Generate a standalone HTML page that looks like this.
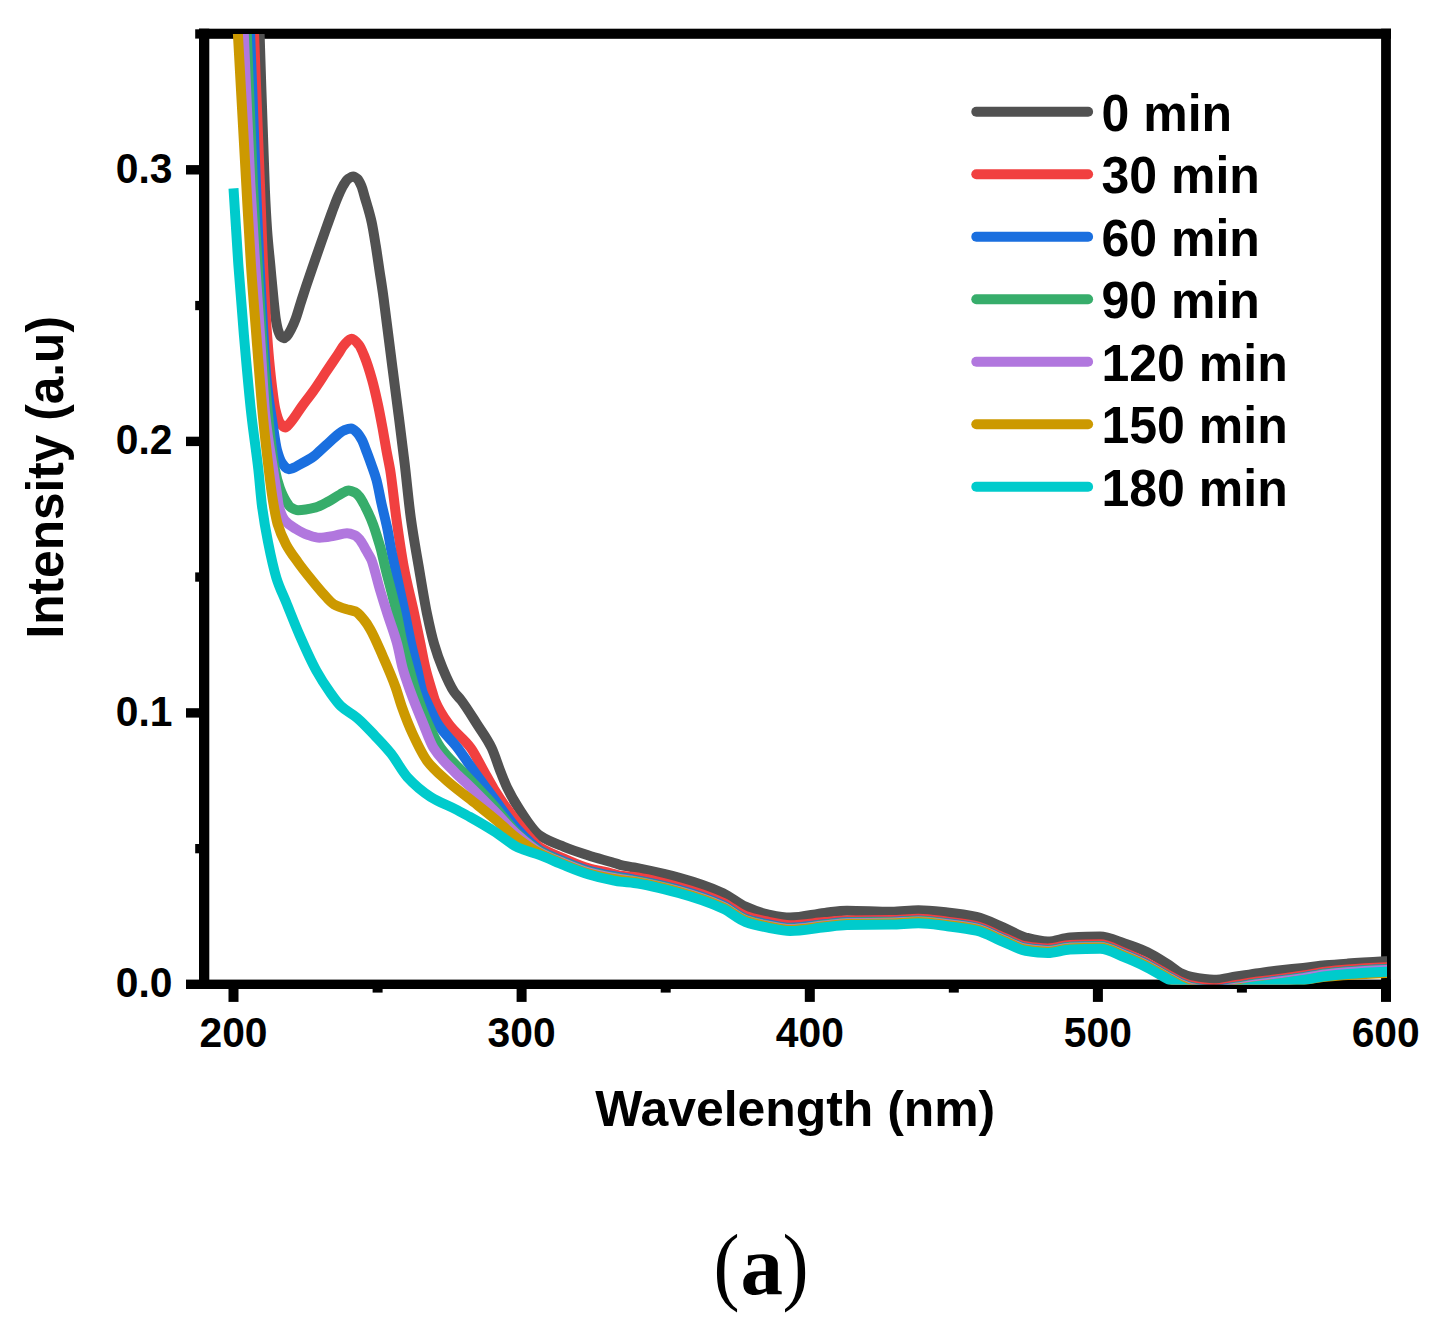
<!DOCTYPE html>
<html lang="en">
<head>
<meta charset="utf-8">
<title>UV-vis absorption spectra (a)</title>
<style>
html,body{margin:0;padding:0;background:#fff;}
body{width:1434px;height:1335px;overflow:hidden;}
svg{display:block;}
</style>
</head>
<body>
<svg width="1434" height="1335" viewBox="0 0 1434 1335">
<defs><clipPath id="pc"><rect x="204.0" y="34.0" width="1183.0" height="950.5"/></clipPath></defs>
<rect width="1434" height="1335" fill="#fff"/>
<g fill="#000">
<rect x="199" y="28.7" width="1192" height="10.1"/>
<rect x="199" y="979.6" width="1192" height="9.4"/>
<rect x="199" y="28.7" width="10.3" height="960.3"/>
<rect x="1381.1" y="28.7" width="9.8" height="960.3"/>
<rect x="186" y="979.6" width="14" height="9.4"/>
<rect x="195.2" y="844.0" width="5" height="9.3"/>
<rect x="186" y="708.2" width="14" height="9.4"/>
<rect x="195.2" y="572.4" width="5" height="9.3"/>
<rect x="186" y="436.7" width="14" height="9.4"/>
<rect x="195.2" y="300.9" width="5" height="9.3"/>
<rect x="186" y="165.1" width="14" height="9.4"/>
<rect x="195.2" y="29.3" width="5" height="9.3"/>
<rect x="228.5" y="988" width="10" height="13.9"/>
<rect x="372.6" y="988" width="10" height="4.6"/>
<rect x="516.6" y="988" width="10" height="13.9"/>
<rect x="660.7" y="988" width="10" height="4.6"/>
<rect x="804.8" y="988" width="10" height="13.9"/>
<rect x="948.8" y="988" width="10" height="4.6"/>
<rect x="1092.9" y="988" width="10" height="13.9"/>
<rect x="1236.9" y="988" width="10" height="4.6"/>
<rect x="1381.0" y="988" width="10" height="13.9"/>
</g>
<g clip-path="url(#pc)" fill="none" stroke-width="10" stroke-linejoin="round" stroke-linecap="butt">
<path stroke="#515151" d="M257.4 -30.0C258.1 -8.7 258.9 12.6 259.6 34.0C261.4 85.7 263.1 151.5 264.9 190.0C265.6 206.0 266.4 219.8 267.1 230.0C268.2 245.3 269.3 254.2 270.4 266.0C271.5 278.2 272.7 291.3 273.8 301.9C274.5 308.5 275.2 315.7 275.9 319.9C276.7 324.7 277.5 328.7 278.3 331.0C279.2 333.6 280.1 335.8 281.0 336.6C281.9 337.4 282.9 338.2 283.8 338.2C284.9 338.2 285.9 337.0 287.0 336.0C288.3 334.7 289.7 332.0 291.0 329.5C292.5 326.6 294.1 323.1 295.6 319.0C297.2 314.7 298.9 308.6 300.5 303.5C302.3 297.8 304.2 292.0 306.0 286.5C308.0 280.5 310.0 274.6 312.0 268.8C314.2 262.4 316.4 256.1 318.6 249.8C321.1 242.6 323.7 235.3 326.2 228.2C328.1 222.8 330.1 217.2 332.0 212.0C334.0 206.6 336.0 201.1 338.0 196.5C339.7 192.7 341.3 188.8 343.0 186.0C344.7 183.2 346.3 180.2 348.0 179.0C349.8 177.7 351.5 176.4 353.3 176.4C354.7 176.4 356.1 177.7 357.5 179.0C358.8 180.2 360.1 183.0 361.4 186.0C362.6 188.8 363.8 193.9 365.0 198.0C367.2 205.6 369.4 212.0 371.6 221.9C373.0 228.2 374.4 237.3 375.8 245.9C377.0 253.3 378.2 261.9 379.4 269.9C380.6 277.9 381.8 285.2 383.0 293.8C383.7 298.8 384.4 304.6 385.1 310.0C387.6 329.2 390.0 348.8 392.5 368.0C394.6 384.1 396.6 399.7 398.7 415.9C400.7 431.6 402.7 447.1 404.7 463.9C406.7 481.0 408.8 503.1 410.8 518.0C413.4 537.0 416.0 550.5 418.6 565.9C421.4 582.5 424.2 600.2 427.0 613.8C429.4 625.3 431.7 635.9 434.1 644.0C436.9 653.6 439.7 661.3 442.5 668.0C446.4 677.4 450.3 686.3 454.2 692.0C456.5 695.3 458.7 697.1 461.0 700.0C466.3 706.9 471.6 715.7 476.9 724.0C481.8 731.7 486.7 737.8 491.6 747.9C494.6 754.1 497.6 764.3 500.6 771.9C502.7 777.3 504.9 783.0 507.0 787.4C510.7 795.0 514.3 801.4 518.0 807.0C525.3 818.2 532.7 830.7 540.0 835.7C548.0 841.2 556.0 843.6 564.0 846.8C572.0 850.0 580.0 852.6 588.0 855.2C596.0 857.8 604.0 859.9 612.0 862.3C614.7 863.1 617.3 864.1 620.0 864.8C624.6 865.9 629.3 866.5 633.9 867.5C648.8 870.6 663.6 873.5 678.5 877.6C693.4 881.7 708.3 886.4 723.2 893.2C730.6 896.6 738.1 903.3 745.5 906.6C752.9 909.9 760.4 912.9 767.8 914.4C775.2 915.9 782.7 917.6 790.1 917.6C801.6 917.6 813.1 914.2 824.6 912.9C832.1 912.1 839.5 910.7 847.0 910.7C861.9 910.7 876.7 911.8 891.6 911.8C900.5 911.8 909.5 910.3 918.4 910.3C928.1 910.3 937.7 911.5 947.4 912.5C957.1 913.5 966.7 914.8 976.4 917.0C985.3 919.0 994.3 923.7 1003.2 927.4C1010.6 930.5 1018.1 935.6 1025.5 937.5C1032.9 939.4 1040.4 941.5 1047.8 941.5C1055.2 941.5 1062.7 937.9 1070.1 937.5C1080.1 937.0 1090.0 936.6 1100.0 936.6C1108.2 936.6 1116.4 940.8 1124.6 943.5C1132.1 945.9 1139.5 948.5 1147.0 952.0C1154.4 955.4 1161.9 960.5 1169.3 965.3C1173.0 967.7 1176.7 971.4 1180.4 973.1C1184.1 974.8 1187.9 976.3 1191.6 977.0C1199.0 978.4 1206.5 979.8 1213.9 979.8C1221.3 979.8 1228.8 977.6 1236.2 976.5C1243.6 975.4 1251.1 974.1 1258.5 973.1C1265.9 972.1 1273.4 971.0 1280.8 970.2C1288.3 969.4 1295.7 968.8 1303.2 968.0C1310.6 967.2 1318.1 966.0 1325.5 965.3C1332.9 964.6 1340.4 964.1 1347.8 963.6C1360.4 962.7 1373.1 962.0 1385.7 961.3C1389.1 961.1 1392.6 961.0 1396.0 960.8"/>
<path stroke="#F14040" d="M251.5 -30.0C252.3 -8.6 253.2 12.8 254.0 34.0C256.0 84.8 258.0 133.4 260.0 185.0C261.0 210.8 262.0 242.9 263.0 264.0C264.4 292.9 265.7 316.6 267.1 335.0C268.4 352.5 269.7 366.7 271.0 378.0C272.5 391.0 274.0 403.8 275.5 410.0C277.0 416.2 278.5 421.0 280.0 423.0C281.7 425.3 283.5 427.5 285.2 427.5C286.8 427.5 288.4 424.8 290.0 423.1C294.0 418.8 298.0 411.8 302.0 406.3C306.0 400.8 310.0 395.8 314.0 390.1C318.0 384.4 322.0 378.1 326.0 372.1C330.0 366.1 334.0 360.2 338.0 354.2C340.0 351.2 342.0 347.4 344.0 345.2C346.6 342.4 349.1 338.7 351.7 338.7C354.1 338.7 356.6 342.0 359.0 345.0C360.8 347.2 362.5 351.7 364.3 356.0C366.9 362.4 369.5 370.6 372.1 379.9C374.0 386.7 375.9 395.1 377.8 403.9C379.4 411.2 380.9 419.4 382.5 427.9C383.9 435.5 385.3 444.3 386.7 451.9C387.9 458.2 389.0 462.9 390.2 470.0C392.2 482.5 394.3 503.4 396.3 518.0C398.7 535.5 401.2 552.7 403.6 565.9C407.1 585.0 410.7 597.3 414.2 613.8C416.3 623.6 418.4 633.8 420.5 644.0C422.1 651.9 423.8 661.3 425.4 668.0C427.7 677.4 430.0 684.4 432.3 692.0C433.1 694.8 434.0 698.0 434.8 700.0C439.4 711.2 444.1 717.7 448.7 724.0C456.0 734.0 463.4 737.8 470.7 747.9C475.2 754.1 479.8 763.9 484.3 771.9C487.5 777.6 490.8 783.8 494.0 789.0C502.0 801.8 510.0 813.3 518.0 823.2C525.3 832.3 532.7 842.7 540.0 847.5C548.0 852.7 556.0 855.2 564.0 858.6C572.0 862.0 580.0 865.8 588.0 868.1C596.0 870.4 604.0 871.5 612.0 873.5C614.7 874.2 617.3 875.2 620.0 875.6C624.6 876.3 629.3 876.4 633.9 877.0C648.8 878.9 663.6 882.9 678.5 887.0C693.4 891.1 708.3 895.9 723.2 902.7C730.6 906.1 738.1 913.4 745.5 916.0C752.9 918.6 760.4 920.1 767.8 921.6C775.2 923.1 782.7 925.2 790.1 925.2C801.6 925.2 813.1 923.1 824.6 922.1C832.1 921.5 839.5 920.4 847.0 920.4C861.9 920.2 876.7 920.3 891.6 920.1C900.5 920.0 909.5 918.8 918.4 918.8C928.1 918.8 937.7 920.5 947.4 921.7C957.1 922.9 966.7 923.9 976.4 926.1C985.3 928.1 994.3 933.7 1003.2 937.3C1010.6 940.3 1018.1 945.0 1025.5 946.2C1032.9 947.4 1040.4 948.4 1047.8 948.4C1055.2 948.4 1062.7 945.4 1070.1 945.1C1080.1 944.6 1090.0 944.3 1100.0 944.3C1108.2 944.3 1116.4 949.7 1124.6 952.9C1132.1 955.8 1139.5 959.2 1147.0 962.9C1154.4 966.6 1161.9 971.4 1169.3 975.5C1173.0 977.5 1176.7 979.9 1180.4 981.5C1184.1 983.1 1187.9 984.8 1191.6 985.5C1199.0 987.0 1206.5 988.3 1213.9 988.3C1221.3 988.3 1228.8 986.1 1236.2 985.0C1243.6 983.9 1251.1 982.5 1258.5 981.5C1265.9 980.5 1273.4 979.7 1280.8 978.7C1288.3 977.7 1295.7 976.6 1303.2 975.5C1310.6 974.4 1318.1 972.7 1325.5 971.8C1332.9 970.9 1340.4 970.2 1347.8 969.6C1360.4 968.6 1373.1 967.9 1385.7 967.3C1389.1 967.1 1392.6 967.0 1396.0 966.9"/>
<path stroke="#1A6FDF" d="M247.6 -30.0C248.4 -8.7 249.3 12.7 250.1 34.0C252.1 84.3 254.0 137.3 256.0 185.0C257.1 212.5 258.3 241.4 259.4 264.0C260.8 291.2 262.1 313.3 263.5 335.0C264.5 350.4 265.4 368.1 266.4 378.0C268.6 400.5 270.8 411.6 273.0 426.0C274.3 434.7 275.7 445.1 277.0 450.0C278.7 456.1 280.3 460.7 282.0 463.0C284.3 466.1 286.5 469.2 288.8 469.2C293.2 469.2 297.6 465.5 302.0 463.2C306.0 461.1 310.0 459.0 314.0 456.1C316.0 454.6 318.0 452.5 320.0 450.7C322.0 448.9 324.0 447.1 326.0 445.3C330.0 441.7 334.0 437.6 338.0 434.5C340.0 432.9 342.0 431.1 344.0 430.3C346.4 429.4 348.7 428.5 351.1 428.5C353.1 428.5 355.0 430.6 357.0 432.5C358.6 434.0 360.3 436.8 361.9 439.9C363.5 442.9 365.1 447.7 366.7 451.9C368.3 456.1 369.9 460.4 371.5 465.0C373.2 469.8 374.8 473.9 376.5 480.0C378.2 486.2 379.9 496.4 381.6 504.0C383.5 512.4 385.3 518.9 387.2 527.9C388.7 535.0 390.1 544.6 391.6 551.9C392.6 556.9 393.6 561.3 394.6 565.9C398.1 582.0 401.5 597.3 405.0 613.8C407.1 623.6 409.1 634.8 411.2 644.0C413.1 652.6 415.1 659.8 417.0 668.0C418.8 675.8 420.7 686.6 422.5 692.0C423.7 695.4 424.8 697.5 426.0 700.0C429.9 708.6 433.9 717.9 437.8 724.0C444.4 734.2 451.0 739.3 457.6 747.9C463.2 755.3 468.9 764.0 474.5 771.9C481.0 781.0 487.5 789.9 494.0 798.6C502.0 809.3 510.0 821.3 518.0 830.0C525.3 838.0 532.7 846.0 540.0 850.5C548.0 855.4 556.0 858.2 564.0 861.5C572.0 864.8 580.0 868.2 588.0 870.5C596.0 872.8 604.0 874.4 612.0 875.9C619.3 877.3 626.6 878.2 633.9 879.6C648.8 882.4 663.6 885.5 678.5 889.6C693.4 893.7 708.3 898.5 723.2 905.3C730.6 908.7 738.1 916.0 745.5 918.6C752.9 921.2 760.4 922.8 767.8 924.2C775.2 925.6 782.7 927.7 790.1 927.7C801.6 927.7 813.1 925.3 824.6 924.2C832.1 923.5 839.5 922.3 847.0 922.1C861.9 921.8 876.7 921.9 891.6 921.7C900.5 921.6 909.5 920.4 918.4 920.4C928.1 920.4 937.7 922.1 947.4 923.3C957.1 924.5 966.7 925.5 976.4 927.7C985.3 929.7 994.3 935.3 1003.2 938.9C1010.6 941.9 1018.1 946.6 1025.5 947.8C1032.9 949.0 1040.4 950.0 1047.8 950.0C1055.2 950.0 1062.7 947.0 1070.1 946.7C1080.1 946.2 1090.0 945.9 1100.0 945.9C1108.2 945.9 1116.4 951.3 1124.6 954.5C1132.1 957.4 1139.5 960.8 1147.0 964.5C1154.4 968.2 1161.9 973.0 1169.3 977.1C1173.0 979.1 1176.7 981.5 1180.4 983.1C1184.1 984.7 1187.9 986.4 1191.6 987.1C1199.0 988.6 1206.5 989.9 1213.9 989.9C1221.3 989.9 1228.8 987.7 1236.2 986.6C1243.6 985.5 1251.1 984.1 1258.5 983.1C1265.9 982.1 1273.4 981.3 1280.8 980.3C1288.3 979.3 1295.7 978.2 1303.2 977.1C1310.6 976.0 1318.1 974.3 1325.5 973.4C1332.9 972.5 1340.4 971.8 1347.8 971.2C1360.4 970.2 1373.1 969.5 1385.7 968.9C1389.1 968.7 1392.6 968.6 1396.0 968.5"/>
<path stroke="#37AD6B" d="M244.3 -30.0C245.1 -8.4 246.0 13.1 246.8 34.0C248.9 85.8 250.9 143.7 253.0 185.0C254.5 215.6 256.1 237.9 257.6 264.0C259.0 287.9 260.4 314.5 261.8 335.0C263.9 365.3 265.9 393.6 268.0 414.0C270.3 437.0 272.7 458.3 275.0 470.0C276.6 478.0 278.2 483.6 279.8 488.0C281.9 493.7 283.9 498.0 286.0 501.2C287.7 503.8 289.3 506.5 291.0 507.5C293.3 508.9 295.7 510.2 298.0 510.2C304.0 510.2 309.9 508.8 315.9 507.3C319.9 506.3 323.9 503.9 327.9 501.8C331.9 499.7 335.9 496.7 339.9 494.6C342.9 493.0 345.8 490.4 348.8 490.4C350.9 490.4 352.9 491.4 355.0 492.5C356.5 493.3 358.1 494.9 359.6 496.8C361.0 498.5 362.4 501.4 363.8 504.0C365.3 506.8 366.8 509.7 368.3 513.0C370.0 516.6 371.6 520.4 373.3 524.9C374.6 528.4 375.9 532.7 377.2 536.9C378.4 540.7 379.6 544.4 380.8 548.9C382.1 553.9 383.5 560.4 384.8 565.9C388.8 582.5 392.8 595.8 396.8 613.8C398.8 622.8 400.8 635.4 402.8 644.0C404.9 653.2 407.1 660.2 409.2 668.0C411.5 676.2 413.7 685.1 416.0 692.0C420.1 704.4 424.1 715.0 428.2 724.0C432.4 733.2 436.5 742.0 440.7 747.9C448.0 758.3 455.4 763.9 462.7 771.9C473.1 783.2 483.6 793.9 494.0 805.7C502.0 814.8 510.0 826.7 518.0 834.2C525.3 841.1 532.7 847.2 540.0 851.5C548.0 856.2 556.0 859.2 564.0 862.5C572.0 865.8 580.0 869.2 588.0 871.5C596.0 873.8 604.0 875.4 612.0 876.9C619.3 878.3 626.6 879.1 633.9 880.5C648.8 883.3 663.6 886.4 678.5 890.5C693.4 894.6 708.3 899.4 723.2 906.2C730.6 909.6 738.1 916.9 745.5 919.5C752.9 922.1 760.4 923.7 767.8 925.1C775.2 926.5 782.7 928.5 790.1 928.5C801.6 928.5 813.1 926.0 824.6 924.8C832.1 924.0 839.5 922.8 847.0 922.6C861.9 922.3 876.7 922.4 891.6 922.1C900.5 921.9 909.5 920.8 918.4 920.8C928.1 920.8 937.7 922.5 947.4 923.7C957.1 924.9 966.7 925.9 976.4 928.1C985.3 930.1 994.3 935.7 1003.2 939.3C1010.6 942.3 1018.1 947.0 1025.5 948.2C1032.9 949.4 1040.4 950.4 1047.8 950.4C1055.2 950.4 1062.7 947.4 1070.1 947.1C1080.1 946.6 1090.0 946.3 1100.0 946.3C1108.2 946.3 1116.4 951.7 1124.6 954.9C1132.1 957.8 1139.5 961.2 1147.0 964.9C1154.4 968.6 1161.9 973.4 1169.3 977.5C1173.0 979.5 1176.7 981.9 1180.4 983.5C1184.1 985.1 1187.9 986.8 1191.6 987.5C1199.0 989.0 1206.5 990.3 1213.9 990.3C1221.3 990.3 1228.8 988.1 1236.2 987.0C1243.6 985.9 1251.1 984.5 1258.5 983.5C1265.9 982.5 1273.4 981.7 1280.8 980.7C1288.3 979.7 1295.7 978.6 1303.2 977.5C1310.6 976.4 1318.1 974.7 1325.5 973.8C1332.9 972.9 1340.4 972.2 1347.8 971.6C1360.4 970.6 1373.1 969.9 1385.7 969.3C1389.1 969.1 1392.6 969.0 1396.0 968.9"/>
<path stroke="#B177DE" d="M241.0 -30.0C241.9 -8.7 242.9 12.7 243.8 34.0C246.0 84.3 248.2 143.2 250.4 185.0C252.0 215.4 253.6 239.1 255.2 264.0C256.8 288.9 258.4 311.0 260.0 335.0C261.7 361.0 263.5 396.9 265.2 414.0C267.9 440.2 270.5 452.4 273.2 470.0C274.5 478.4 275.7 485.8 277.0 494.0C277.6 497.9 278.2 503.7 278.8 506.0C280.8 513.7 282.8 517.8 284.8 520.3C288.4 524.7 292.0 526.5 295.6 528.7C299.6 531.1 303.5 533.3 307.5 534.7C311.5 536.1 315.5 537.8 319.5 537.8C324.3 537.8 329.1 536.7 333.9 535.9C338.3 535.2 342.6 533.2 347.0 533.2C349.7 533.2 352.3 534.2 355.0 535.3C356.7 536.0 358.3 537.9 360.0 539.9C361.5 541.6 362.9 544.6 364.4 547.1C365.6 549.2 366.8 551.5 368.0 553.7C369.2 555.8 370.3 557.3 371.5 560.0C372.1 561.5 372.8 563.8 373.4 565.9C375.6 573.2 377.8 582.4 380.0 589.9C382.5 598.3 384.9 606.0 387.4 613.8C390.7 624.1 393.9 631.9 397.2 644.0C399.0 650.7 400.8 661.5 402.6 668.0C405.3 677.7 407.9 684.6 410.6 692.0C414.8 703.7 419.1 713.7 423.3 724.0C426.7 732.2 430.1 742.5 433.5 747.9C440.5 759.1 447.6 764.7 454.6 771.9C459.7 777.2 464.9 781.5 470.0 786.5C478.0 794.3 486.0 802.5 494.0 810.6C502.0 818.7 510.0 828.2 518.0 835.3C525.3 841.8 532.7 848.3 540.0 852.5C548.0 857.1 556.0 860.0 564.0 863.3C572.0 866.6 580.0 870.0 588.0 872.3C596.0 874.5 604.0 876.2 612.0 877.7C619.3 879.0 626.6 879.8 633.9 881.1C648.8 883.8 663.6 887.0 678.5 891.1C693.4 895.2 708.3 900.0 723.2 906.8C730.6 910.2 738.1 917.5 745.5 920.1C752.9 922.7 760.4 924.3 767.8 925.7C775.2 927.1 782.7 929.1 790.1 929.1C801.6 929.1 813.1 926.6 824.6 925.4C832.1 924.6 839.5 923.4 847.0 923.2C861.9 922.9 876.7 923.0 891.6 922.7C900.5 922.5 909.5 921.4 918.4 921.4C928.1 921.4 937.7 923.1 947.4 924.3C957.1 925.5 966.7 926.5 976.4 928.7C985.3 930.7 994.3 936.3 1003.2 939.9C1010.6 942.9 1018.1 947.6 1025.5 948.8C1032.9 950.0 1040.4 951.0 1047.8 951.0C1055.2 951.0 1062.7 948.0 1070.1 947.7C1080.1 947.2 1090.0 946.9 1100.0 946.9C1108.2 946.9 1116.4 952.3 1124.6 955.5C1132.1 958.4 1139.5 961.8 1147.0 965.5C1154.4 969.2 1161.9 974.0 1169.3 978.1C1173.0 980.1 1176.7 982.5 1180.4 984.1C1184.1 985.7 1187.9 987.4 1191.6 988.1C1199.0 989.6 1206.5 990.9 1213.9 990.9C1221.3 990.9 1228.8 988.7 1236.2 987.6C1243.6 986.5 1251.1 985.1 1258.5 984.1C1265.9 983.1 1273.4 982.3 1280.8 981.3C1288.3 980.3 1295.7 979.2 1303.2 978.1C1310.6 977.0 1318.1 975.3 1325.5 974.4C1332.9 973.5 1340.4 972.8 1347.8 972.2C1360.4 971.2 1373.1 970.5 1385.7 969.9C1389.1 969.7 1392.6 969.6 1396.0 969.5"/>
<path stroke="#CC9900" d="M234.3 -30.0C235.5 -8.7 236.7 12.6 237.9 34.0C240.7 84.0 243.5 135.9 246.3 185.0C247.8 211.9 249.4 241.1 250.9 264.0C252.7 290.9 254.5 312.1 256.3 335.0C258.4 362.2 260.6 391.6 262.7 414.0C264.7 435.4 266.8 453.3 268.8 470.0C270.1 480.9 271.5 492.0 272.8 500.0C274.4 509.7 276.0 518.6 277.6 524.0C280.4 533.4 283.2 539.0 286.0 544.3C290.0 551.8 294.0 556.7 298.0 562.3C302.0 567.9 306.0 572.9 310.0 577.9C314.0 582.9 318.0 587.9 322.0 592.3C326.0 596.6 329.9 602.1 333.9 604.3C337.9 606.6 341.9 607.8 345.9 609.0C349.1 610.0 352.3 610.2 355.5 611.5C358.3 612.7 361.1 616.4 363.9 619.8C366.0 622.3 368.1 625.6 370.2 629.2C374.4 636.4 378.6 646.7 382.8 656.2C387.0 665.7 391.2 675.1 395.4 686.7C397.6 692.7 399.7 700.9 401.9 707.0C405.5 717.1 409.1 726.2 412.7 734.0C417.5 744.3 422.3 754.5 427.1 760.9C433.7 769.6 440.3 774.8 446.9 780.7C454.6 787.5 462.3 793.0 470.0 799.1C478.0 805.5 486.0 811.7 494.0 818.3C502.0 824.9 510.0 833.0 518.0 839.0C525.3 844.5 532.7 849.6 540.0 853.5C548.0 857.8 556.0 860.9 564.0 864.2C572.0 867.5 580.0 870.9 588.0 873.2C596.0 875.5 604.0 877.3 612.0 878.7C619.3 880.0 626.6 880.6 633.9 881.8C648.8 884.3 663.6 887.7 678.5 891.8C693.4 895.9 708.3 900.7 723.2 907.5C730.6 910.9 738.1 918.2 745.5 920.8C752.9 923.4 760.4 925.0 767.8 926.4C775.2 927.8 782.7 929.8 790.1 929.8C801.6 929.8 813.1 927.3 824.6 926.1C832.1 925.3 839.5 924.1 847.0 923.9C861.9 923.6 876.7 923.7 891.6 923.4C900.5 923.2 909.5 922.1 918.4 922.1C928.1 922.1 937.7 923.8 947.4 925.0C957.1 926.2 966.7 927.2 976.4 929.4C985.3 931.4 994.3 937.0 1003.2 940.6C1010.6 943.6 1018.1 948.3 1025.5 949.5C1032.9 950.7 1040.4 951.7 1047.8 951.7C1055.2 951.7 1062.7 948.7 1070.1 948.4C1080.1 947.9 1090.0 947.6 1100.0 947.6C1108.2 947.6 1116.4 953.0 1124.6 956.2C1132.1 959.1 1139.5 962.5 1147.0 966.2C1154.4 969.9 1161.9 974.7 1169.3 978.8C1173.0 980.8 1176.7 983.2 1180.4 984.8C1184.1 986.4 1187.9 988.0 1191.6 988.8C1199.0 990.3 1206.5 991.8 1213.9 991.8C1221.3 991.8 1228.8 989.8 1236.2 988.8C1243.6 987.7 1251.1 986.5 1258.5 985.6C1265.9 984.6 1273.4 984.0 1280.8 983.1C1288.3 982.2 1295.7 981.2 1303.2 980.2C1310.6 979.1 1318.1 977.6 1325.5 976.8C1332.9 976.0 1340.4 975.3 1347.8 974.9C1360.4 974.1 1373.1 973.5 1385.7 973.0C1389.1 972.9 1392.6 972.7 1396.0 972.6"/>
<path stroke="#00CBCC" d="M233.5 188.4C235.1 215.9 236.7 241.5 238.3 264.0C240.2 290.3 242.0 313.3 243.9 335.0C246.4 363.7 248.8 391.6 251.3 414.0C253.7 435.4 256.0 448.9 258.4 470.0C259.6 480.7 260.8 496.8 262.0 506.0C264.0 521.3 266.0 531.8 268.0 541.9C270.8 556.0 273.6 569.0 276.4 577.9C279.6 588.1 282.8 594.0 286.0 601.9C290.5 613.0 295.0 624.7 299.5 635.0C305.1 647.8 310.7 660.5 316.3 670.6C321.0 679.1 325.8 686.4 330.5 693.0C333.9 697.8 337.4 702.8 340.8 706.0C346.2 711.1 351.6 713.3 357.0 717.8C363.0 722.8 368.9 729.4 374.9 735.7C380.3 741.4 385.7 746.9 391.1 753.7C396.5 760.5 401.9 771.2 407.3 777.1C415.1 785.6 422.9 792.0 430.7 796.9C439.1 802.2 447.4 805.1 455.8 809.4C460.5 811.9 465.3 814.4 470.0 817.0C478.0 821.5 486.0 826.1 494.0 831.2C502.0 836.3 510.0 843.8 518.0 847.5C525.3 850.9 532.7 852.4 540.0 855.2C548.0 858.2 556.0 862.0 564.0 865.2C572.0 868.4 580.0 871.8 588.0 874.2C596.0 876.6 604.0 878.6 612.0 880.2C614.7 880.7 617.3 881.3 620.0 881.6C624.6 882.2 629.3 882.4 633.9 883.0C648.8 884.9 663.6 888.9 678.5 893.0C693.4 897.1 708.3 901.9 723.2 908.7C730.6 912.1 738.1 919.4 745.5 922.0C752.9 924.6 760.4 926.2 767.8 927.6C775.2 929.0 782.7 931.0 790.1 931.0C801.6 931.0 813.1 928.5 824.6 927.3C832.1 926.5 839.5 925.3 847.0 925.1C861.9 924.8 876.7 924.9 891.6 924.6C900.5 924.4 909.5 923.3 918.4 923.3C928.1 923.3 937.7 925.0 947.4 926.2C957.1 927.4 966.7 928.4 976.4 930.6C985.3 932.6 994.3 938.2 1003.2 941.8C1010.6 944.8 1018.1 949.5 1025.5 950.7C1032.9 951.9 1040.4 952.9 1047.8 952.9C1055.2 952.9 1062.7 949.9 1070.1 949.6C1080.1 949.1 1090.0 948.8 1100.0 948.8C1108.2 948.8 1116.4 954.2 1124.6 957.4C1132.1 960.3 1139.5 963.7 1147.0 967.4C1154.4 971.1 1161.9 975.9 1169.3 980.0C1173.0 982.0 1176.7 984.4 1180.4 986.0C1184.1 987.6 1187.9 989.3 1191.6 990.0C1199.0 991.5 1206.5 992.8 1213.9 992.8C1221.3 992.8 1228.8 990.6 1236.2 989.5C1243.6 988.4 1251.1 987.0 1258.5 986.0C1265.9 985.0 1273.4 984.2 1280.8 983.2C1288.3 982.2 1295.7 981.1 1303.2 980.0C1310.6 978.9 1318.1 977.2 1325.5 976.3C1332.9 975.4 1340.4 974.7 1347.8 974.1C1360.4 973.1 1373.1 972.4 1385.7 971.8C1389.1 971.6 1392.6 971.5 1396.0 971.4"/>
</g>
<text font-family="Liberation Sans, Arial, sans-serif" font-weight="bold" fill="#000" font-size="40.8px" text-anchor="end" transform="translate(172.5 997.4) scale(1 1.035)">0.0</text>
<text font-family="Liberation Sans, Arial, sans-serif" font-weight="bold" fill="#000" font-size="40.8px" text-anchor="end" transform="translate(172.5 725.8) scale(1 1.035)">0.1</text>
<text font-family="Liberation Sans, Arial, sans-serif" font-weight="bold" fill="#000" font-size="40.8px" text-anchor="end" transform="translate(172.5 454.3) scale(1 1.035)">0.2</text>
<text font-family="Liberation Sans, Arial, sans-serif" font-weight="bold" fill="#000" font-size="40.8px" text-anchor="end" transform="translate(172.5 182.7) scale(1 1.035)">0.3</text>
<text font-family="Liberation Sans, Arial, sans-serif" font-weight="bold" fill="#000" font-size="40.8px" text-anchor="middle" transform="translate(233.5 1047.3) scale(1 1.035)">200</text>
<text font-family="Liberation Sans, Arial, sans-serif" font-weight="bold" fill="#000" font-size="40.8px" text-anchor="middle" transform="translate(521.6 1047.3) scale(1 1.035)">300</text>
<text font-family="Liberation Sans, Arial, sans-serif" font-weight="bold" fill="#000" font-size="40.8px" text-anchor="middle" transform="translate(809.8 1047.3) scale(1 1.035)">400</text>
<text font-family="Liberation Sans, Arial, sans-serif" font-weight="bold" fill="#000" font-size="40.8px" text-anchor="middle" transform="translate(1097.9 1047.3) scale(1 1.035)">500</text>
<text font-family="Liberation Sans, Arial, sans-serif" font-weight="bold" fill="#000" font-size="40.8px" text-anchor="middle" transform="translate(1385.7 1047.3) scale(1 1.035)">600</text>
<text font-family="Liberation Sans, Arial, sans-serif" font-weight="bold" fill="#000" font-size="49.9px" text-anchor="middle" transform="translate(795.2 1126.0)">Wavelength (nm)</text>
<text font-family="Liberation Sans, Arial, sans-serif" font-weight="bold" fill="#000" font-size="49.6px" text-anchor="middle" transform="translate(62.6 477.3) rotate(-90) scale(1 1.035)">Intensity (a.u)</text>
<g stroke-width="10" stroke-linecap="round">
<line x1="976.3" x2="1088.1" y1="111.8" y2="111.8" stroke="#515151"/>
<line x1="976.3" x2="1088.1" y1="174.3" y2="174.3" stroke="#F14040"/>
<line x1="976.3" x2="1088.1" y1="236.8" y2="236.8" stroke="#1A6FDF"/>
<line x1="976.3" x2="1088.1" y1="299.3" y2="299.3" stroke="#37AD6B"/>
<line x1="976.3" x2="1088.1" y1="361.8" y2="361.8" stroke="#B177DE"/>
<line x1="976.3" x2="1088.1" y1="424.3" y2="424.3" stroke="#CC9900"/>
<line x1="976.3" x2="1088.1" y1="486.8" y2="486.8" stroke="#00CBCC"/>
</g>
<text font-family="Liberation Sans, Arial, sans-serif" font-weight="bold" fill="#000" font-size="50.0px" text-anchor="start" transform="translate(1101.5 130.5) scale(1 1.030)">0 min</text>
<text font-family="Liberation Sans, Arial, sans-serif" font-weight="bold" fill="#000" font-size="50.0px" text-anchor="start" transform="translate(1101.5 193.0) scale(1 1.030)">30 min</text>
<text font-family="Liberation Sans, Arial, sans-serif" font-weight="bold" fill="#000" font-size="50.0px" text-anchor="start" transform="translate(1101.5 255.5) scale(1 1.030)">60 min</text>
<text font-family="Liberation Sans, Arial, sans-serif" font-weight="bold" fill="#000" font-size="50.0px" text-anchor="start" transform="translate(1101.5 318.0) scale(1 1.030)">90 min</text>
<text font-family="Liberation Sans, Arial, sans-serif" font-weight="bold" fill="#000" font-size="50.0px" text-anchor="start" transform="translate(1101.5 380.5) scale(1 1.030)">120 min</text>
<text font-family="Liberation Sans, Arial, sans-serif" font-weight="bold" fill="#000" font-size="50.0px" text-anchor="start" transform="translate(1101.5 443.0) scale(1 1.030)">150 min</text>
<text font-family="Liberation Sans, Arial, sans-serif" font-weight="bold" fill="#000" font-size="50.0px" text-anchor="start" transform="translate(1101.5 505.5) scale(1 1.030)">180 min</text>
<text font-family="Liberation Serif, Times New Roman, serif" fill="#000" font-size="87px" transform="translate(713.4 1294.3) scale(0.9 1)">(</text>
<text font-family="Liberation Serif, Times New Roman, serif" fill="#000" font-size="85px" font-weight="bold" x="740.6" y="1293.6">a</text>
<text font-family="Liberation Serif, Times New Roman, serif" fill="#000" font-size="87px" transform="translate(782.6 1294.3) scale(0.9 1)">)</text>
</svg>
</body>
</html>
